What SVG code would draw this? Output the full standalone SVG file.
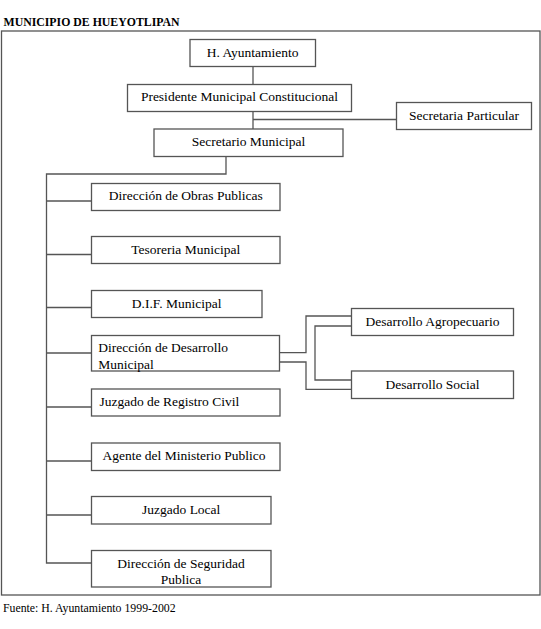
<svg xmlns="http://www.w3.org/2000/svg" width="541" height="629" viewBox="0 0 541 629">
<style>
.box{fill:#fff;stroke:#555;stroke-width:1.3}
.ln{fill:none;stroke:#555;stroke-width:1.3}
.t{font-family:"Liberation Serif","Times New Roman",serif;font-size:13.5px;fill:#000}
.c{text-anchor:middle}
.title{font-family:"Liberation Serif","Times New Roman",serif;font-size:11.8px;font-weight:bold;fill:#000}
.src{font-family:"Liberation Serif","Times New Roman",serif;font-size:11.8px;fill:#000}
</style>
<rect width="541" height="629" fill="#fff"/>
<text class="title" x="3.5" y="26">MUNICIPIO DE HUEYOTLIPAN</text>
<rect id="frame" x="1.5" y="31" width="538.5" height="564" fill="none" stroke="#555" stroke-width="1.3"/>
<g id="connectors">
<path class="ln" d="M253 66.5V84.5"/>
<path class="ln" d="M253 111.5V129"/>
<path class="ln" d="M253 119.5H396.5"/>
<path class="ln" d="M226 156.5V174H46.5V563H91.5"/>
<path class="ln" d="M46.5 201H91.5"/>
<path class="ln" d="M46.5 254.5H91.5"/>
<path class="ln" d="M46.5 307.5H91.5"/>
<path class="ln" d="M46.5 353H91.5"/>
<path class="ln" d="M46.5 407H91.5"/>
<path class="ln" d="M46.5 461H91.5"/>
<path class="ln" d="M46.5 515H91.5"/>
<path class="ln" d="M279.5 352.7H306V316H351.5"/>
<path class="ln" d="M279.5 362H306V389.3H351.5"/>
<path class="ln" d="M351.5 326H315V380H351.5"/>
</g>
<g id="h-ayuntamiento"><rect class="box" x="190" y="39.5" width="125.5" height="27"/><text class="t c" x="252.7" y="56.5">H. Ayuntamiento</text></g>
<g id="presidente"><rect class="box" x="127.5" y="84.5" width="224" height="27"/><text class="t c" x="239.5" y="101">Presidente Municipal Constitucional</text></g>
<g id="secretaria-particular"><rect class="box" x="396.5" y="102.5" width="135" height="27"/><text class="t c" x="464" y="119.5">Secretaria Particular</text></g>
<g id="secretario-municipal"><rect class="box" x="154" y="129" width="189" height="27.5"/><text class="t c" x="248.5" y="146">Secretario Municipal</text></g>
<g id="obras"><rect class="box" x="91.5" y="183.5" width="188.5" height="27"/><text class="t c" x="185.7" y="200">Dirección de Obras Publicas</text></g>
<g id="tesoreria"><rect class="box" x="91.5" y="236.5" width="188.5" height="27"/><text class="t c" x="185.7" y="253.5">Tesoreria Municipal</text></g>
<g id="dif"><rect class="box" x="91.5" y="290.5" width="170.5" height="27"/><text class="t c" x="176.7" y="307.5">D.I.F. Municipal</text></g>
<g id="desarrollo-municipal"><rect class="box" x="91.5" y="335.5" width="188" height="35.5"/><text class="t" x="98.3" y="352">Dirección de Desarrollo</text><text class="t" x="98.3" y="369">Municipal</text></g>
<g id="agropecuario"><rect class="box" x="351.5" y="308.5" width="162" height="27"/><text class="t c" x="432.5" y="326">Desarrollo Agropecuario</text></g>
<g id="social"><rect class="box" x="351.5" y="371" width="162" height="27.5"/><text class="t c" x="432.5" y="389">Desarrollo Social</text></g>
<g id="registro-civil"><rect class="box" x="91.5" y="389" width="188.5" height="27"/><text class="t" x="99.4" y="406">Juzgado de Registro Civil</text></g>
<g id="ministerio-publico"><rect class="box" x="91.5" y="443" width="188.5" height="27.5"/><text class="t c" x="184" y="460">Agente del Ministerio Publico</text></g>
<g id="juzgado-local"><rect class="box" x="91.5" y="496.5" width="179.5" height="27.5"/><text class="t c" x="181.2" y="514">Juzgado Local</text></g>
<g id="seguridad-publica"><rect class="box" x="91.5" y="550.5" width="179.5" height="36.5"/><text class="t c" x="181" y="568">Dirección de Seguridad</text><text class="t c" x="181" y="584">Publica</text></g>
<text class="src" x="3" y="612">Fuente: H. Ayuntamiento 1999-2002</text>
</svg>
